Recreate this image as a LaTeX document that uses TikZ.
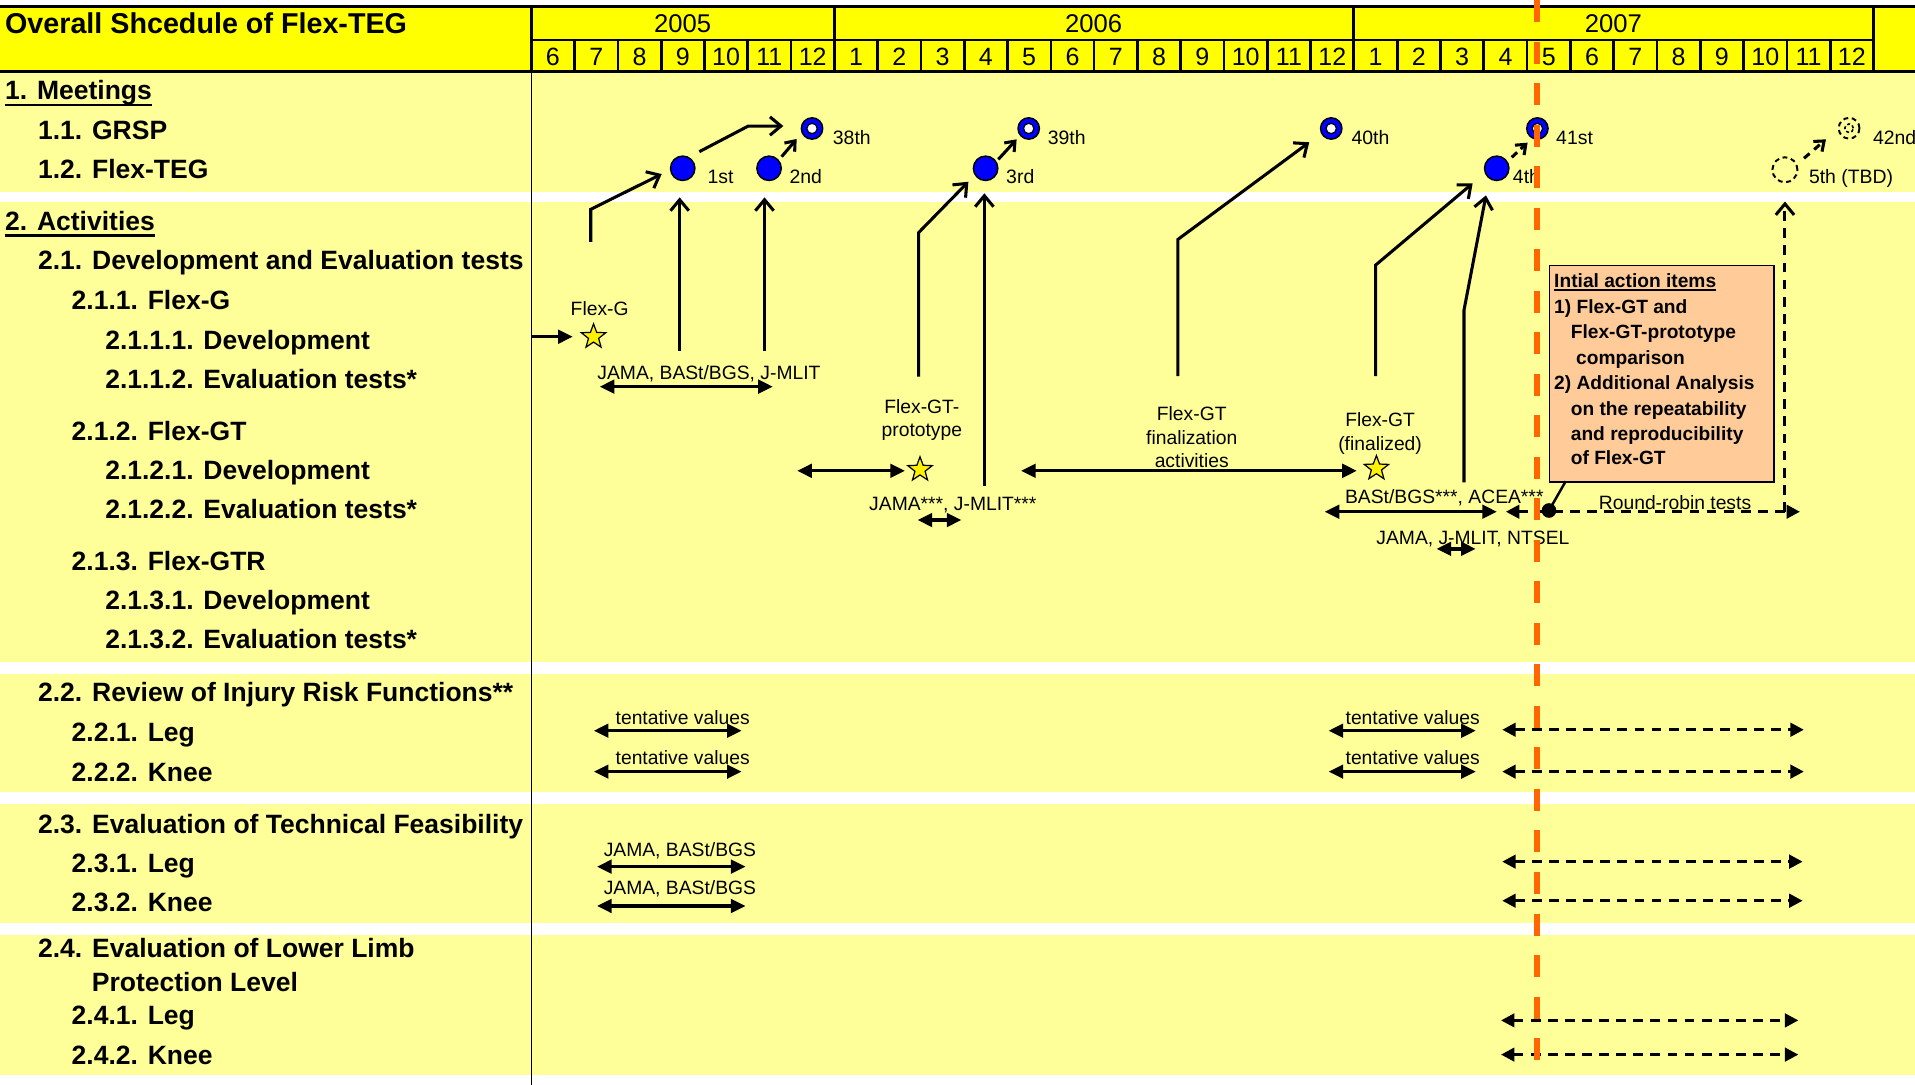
\documentclass[tikz,border=0pt]{standalone}
\usepackage{fontspec}
\setmainfont{Liberation Sans}
\usetikzlibrary{arrows.meta,shapes.geometric}
\definecolor{hdrY}{HTML}{FFFF00}
\definecolor{bandY}{HTML}{FFFF99}
\definecolor{peach}{HTML}{FFCC99}
\definecolor{orng}{HTML}{FF6600}
\definecolor{mblue}{HTML}{0000FF}
\tikzset{
  lt/.style={anchor=base west, inner sep=0pt, font=\bfseries\fontsize{21.7}{26}\selectfont},
  st/.style={anchor=base, inner sep=0pt, font=\fontsize{15.8}{19}\selectfont},
  ml/.style={anchor=base west, inner sep=0pt, font=\fontsize{15.9}{19}\selectfont},
  bt/.style={anchor=base west, inner sep=0pt, font=\bfseries\fontsize{15.7}{19}\selectfont},
  mo/.style={inner sep=0pt, font=\fontsize{20.5}{24}\selectfont},
  yr/.style={inner sep=0pt, font=\fontsize{21}{24}\selectfont},
  hl/.style={line width=2.2pt},
  oarr/.style={line width=2.5pt, -{Straight Barb[length=9pt,width=15pt]}},
  sarr/.style={line width=2.5pt, -{Straight Barb[length=7pt,width=11pt]}},
  darr/.style={line width=2.7pt, {Triangle[length=12pt,width=11pt]}-{Triangle[length=12pt,width=11pt]}},
  sgl/.style={line width=2.7pt, -{Triangle[length=12pt,width=11pt]}},
  ddarr/.style={line width=2.5pt, dash pattern=on 8pt off 6pt, {Triangle[length=11pt,width=11pt]}-{Triangle[length=11pt,width=11pt]}},
  fdot/.style={circle, fill=mblue, draw=black, line width=1.2pt, minimum size=20pt, inner sep=0pt},
  ring/.style={circle, fill=mblue, draw=black, line width=1.2pt, minimum size=17.5pt, inner sep=0pt},
  hole/.style={circle, fill=white, draw=black, line width=1pt, minimum size=8.5pt, inner sep=0pt},
  tbd/.style={circle, draw=black, line width=1.6pt, dash pattern=on 4pt off 3pt, inner sep=0pt},
  stary/.style={star, star points=5, star point ratio=2.4, minimum size=21pt, inner sep=0pt, fill=yellow, draw=black, line width=1pt},
  uline/.style={line width=2.2pt},
}
\begin{document}
\begin{tikzpicture}[x=1pt,y=-1pt]
\useasboundingbox (0,0) rectangle (1568,888);
\fill[white] (0,0) rectangle (1568,888);
% bands
\fill[bandY] (0,58.5) rectangle (1568,157);
\fill[bandY] (0,165) rectangle (1568,541.8);
\fill[bandY] (0,552) rectangle (1568,648.2);
\fill[bandY] (0,658.3) rectangle (1568,755.5);
\fill[bandY] (0,765.6) rectangle (1568,880.2);
% header
\fill[hdrY] (0,5) rectangle (1568,58.5);
\draw[line width=2.6pt] (0,5) -- (1568,5);
\draw[line width=2.6pt] (0,58.5) -- (1568,58.5);
\draw[hl] (435,32.7) -- (1534,32.7);
\foreach \xx in {435,683,1108,1534} \draw[hl] (\xx,5) -- (\xx,58.5);
\foreach \k in {1,...,30} \draw[hl] ({435+\k*35.4516},32.7) -- ({435+\k*35.4516},58.5);
\node[anchor=base west, inner sep=0pt, font=\bfseries\fontsize{23.5}{28}\selectfont] (title) at (4,27.3) {Overall Shcedule of Flex-TEG};
\node[yr] (y2005) at (559,19.1) {2005};
\node[yr] (y2006) at (895.5,19.1) {2006};
\node[yr] (y2007) at (1321,19.1) {2007};
\foreach \m [count=\k from 0] in {6,7,8,9,10,11,12,1,2,3,4,5,6,7,8,9,10,11,12,1,2,3,4,5,6,7,8,9,10,11,12}
  \node[mo] (mon\k) at ({435+(\k+0.5)*35.4516},46.4) {\m};
% left divider
\draw[line width=1pt] (435,58.5) -- (435,888);
% left column
\node[lt] (t1) at (4,81.5) {1. Meetings};
\draw[uline] ([yshift=-4.6pt]t1.base west) -- ([yshift=-4.6pt]t1.base east);
\node[lt] (t11) at (31,114.6) {1.1. GRSP};
\node[lt] (t12) at (31,146) {1.2. Flex-TEG};
\node[lt] (t2) at (4,189) {2. Activities};
\draw[uline] ([yshift=-4pt]t2.base west) -- ([yshift=-4pt]t2.base east);
\node[lt] (t21) at (31,220.5) {2.1. Development and Evaluation tests};
\node[lt] (t211) at (58.5,253.5) {2.1.1. Flex-G};
\node[lt] (t2111) at (86,286) {2.1.1.1. Development};
\node[lt] (t2112) at (86,318) {2.1.1.2. Evaluation tests*};
\node[lt] (t212) at (58.5,360.5) {2.1.2. Flex-GT};
\node[lt] (t2121) at (86,392.5) {2.1.2.1. Development};
\node[lt] (t2122) at (86,424.5) {2.1.2.2. Evaluation tests*};
\node[lt] (t213) at (58.5,467.5) {2.1.3. Flex-GTR};
\node[lt] (t2131) at (86,499) {2.1.3.1. Development};
\node[lt] (t2132) at (86,531) {2.1.3.2. Evaluation tests*};
\node[lt] (t22) at (31,574.5) {2.2. Review of Injury Risk Functions**};
\node[lt] (t221) at (58.5,607.5) {2.2.1. Leg};
\node[lt] (t222) at (58.5,639.5) {2.2.2. Knee};
\node[lt] (t23) at (31,682.5) {2.3. Evaluation of Technical Feasibility};
\node[lt] (t231) at (58.5,714.5) {2.3.1. Leg};
\node[lt] (t232) at (58.5,746.5) {2.3.2. Knee};
\node[lt] (t24) at (31,783.8) {2.4. Evaluation of Lower Limb};
\node[lt] (t24b) at (75,812) {Protection Level};
\node[lt] (t241) at (58.5,838.5) {2.4.1. Leg};
\node[lt] (t242) at (58.5,871.4) {2.4.2. Knee};
% meetings
\node[fdot] (m1) at (559,137.8) {};
\node[fdot] (m2) at (629.7,137.8) {};
\node[fdot] (m3) at (807,137.8) {};
\node[fdot] (m4) at (1225.5,137.8) {};
\node[tbd, minimum size=20.5pt] (m5) at (1461.5,139) {};
\foreach \nm/\xx in {g38/664.9,g39/842.3,g40/1090,g41/1258.8}{
  \node[ring] (\nm) at (\xx,105.2) {};
  \node[hole] (\nm h) at (\xx,105.2) {};
}
\node[tbd, minimum size=17pt] (g42) at (1514,105) {};
\node[tbd, minimum size=7pt, line width=1.3pt, dash pattern=on 2.5pt off 2pt] (g42h) at (1514,105) {};
\node[ml] (l1) at (579.2,150) {1st};
\node[ml] (l2) at (646.3,150) {2nd};
\node[ml] (l3) at (823.7,150) {3rd};
\node[ml] (l4) at (1238.6,150) {4th};
\node[ml] (l5) at (1481,150) {5th (TBD)};
\node[ml] (l38) at (681.8,118.2) {38th};
\node[ml] (l39) at (857.8,118.2) {39th};
\node[ml] (l40) at (1106.5,118.2) {40th};
\node[ml] (l41) at (1274,118.2) {41st};
\node[ml] (l42) at (1533.4,118.2) {42nd};
% meeting arrows
\coordinate (a1s) at (572.6,124.2); \coordinate (a1b) at (612.7,103.2); \coordinate (a1e) at (641.4,103.2);
\draw[oarr] (a1s) -- (a1b) -- (a1e);
\coordinate (a2s) at (640,128.3); \coordinate (a2e) at (652.3,113.8);
\draw[sarr] (a2s) -- (a2e);
\coordinate (a3s) at (817.4,130.5); \coordinate (a3e) at (832.4,114.1);
\draw[sarr] (a3s) -- (a3e);
\coordinate (a4s) at (1237.8,128.8); \coordinate (a4e) at (1250.8,116.8);
\draw[sarr, dash pattern=on 6pt off 4pt] (a4s) -- (a4e);
\coordinate (a5s) at (1477.1,129.6); \coordinate (a5e) at (1495.1,114.1);
\draw[sarr, dash pattern=on 6pt off 5pt] (a5s) -- (a5e);
% 2.1.1 Flex-G
\coordinate (b1s) at (435,275.7); \coordinate (b1e) at (469,275.7);
\draw[sgl] (b1s) -- (b1e);
\node[stary] (sG) at (486,275.7) {};
\node[st] (lG) at (491,258) {Flex-G};
\coordinate (b2s) at (483.7,198); \coordinate (b2b) at (483.7,171.4); \coordinate (b2e) at (541.8,142.5);
\draw[oarr] (b2s) -- (b2b) -- (b2e);
\coordinate (b3s) at (556.5,287); \coordinate (b3e) at (556.5,161.6);
\draw[oarr] (b3s) -- (b3e);
\coordinate (b4s) at (626,287); \coordinate (b4e) at (626,161.6);
\draw[oarr] (b4s) -- (b4e);
\node[st] (lJ1) at (580.5,311) {JAMA, BASt/BGS, J-MLIT};
\coordinate (d1s) at (491,316.6); \coordinate (d1e) at (632.8,316.6);
\draw[darr] (d1s) -- (d1e);
% 2.1.2 Flex-GT prototype
\coordinate (b5s) at (752.1,308.4); \coordinate (b5b) at (752.1,190.5); \coordinate (b5e) at (792.9,148.8);
\draw[oarr] (b5s) -- (b5b) -- (b5e);
\coordinate (b6s) at (806,398); \coordinate (b6e) at (806,158.3);
\draw[oarr] (b6s) -- (b6e);
\node[st] (lP1) at (754.8,338.5) {Flex-GT-};
\node[st] (lP2) at (754.8,357.5) {prototype};
\coordinate (d2s) at (652.7,385.5); \coordinate (d2e) at (741,385.5);
\draw[darr] (d2s) -- (d2e);
\node[stary] (sP) at (753.3,384.5) {};
\node[st] (lJ2) at (780.2,418) {JAMA***, J-MLIT***};
\coordinate (d3s) at (751.3,425.8); \coordinate (d3e) at (787.2,425.8);
\draw[darr] (d3s) -- (d3e);
% finalization
\coordinate (d4s) at (836,385.5); \coordinate (d4e) at (1111,385.5);
\draw[darr] (d4s) -- (d4e);
\node[st] (lF1) at (975.8,344) {Flex-GT};
\node[st] (lF2) at (975.8,364) {finalization};
\node[st] (lF3) at (975.8,383) {activities};
\coordinate (b7s) at (964.5,308); \coordinate (b7b) at (964.5,196); \coordinate (b7e) at (1072,116.5);
\draw[oarr] (b7s) -- (b7b) -- (b7e);
\node[stary] (sF) at (1127,383.5) {};
\node[st] (lD1) at (1130,349) {Flex-GT};
\node[st] (lD2) at (1130,369) {(finalized)};
\coordinate (b8s) at (1126.4,308); \coordinate (b8b) at (1126.4,217); \coordinate (b8e) at (1205.8,150.1);
\draw[oarr] (b8s) -- (b8b) -- (b8e);
\coordinate (b9s) at (1198.7,395); \coordinate (b9b) at (1198.7,254); \coordinate (b9e) at (1216.7,160);
\draw[oarr] (b9s) -- (b9b) -- (b9e);
\node[st] (lB) at (1182.6,412) {BASt/BGS***, ACEA***};
\coordinate (d5s) at (1084.6,419); \coordinate (d5e) at (1225.7,419);
\draw[darr] (d5s) -- (d5e);
\node[st] (lN) at (1206,446) {JAMA, J-MLIT, NTSEL};
\coordinate (d6s) at (1176.2,449.4); \coordinate (d6e) at (1208.3,449.4);
\draw[darr] (d6s) -- (d6e);
\coordinate (r1s) at (1233,419); \coordinate (r1e) at (1473.8,419);
\draw[ddarr] (r1s) -- (r1e);
\node[st] (lR) at (1371.5,417.5) {Round-robin tests};
\coordinate (r2s) at (1461.5,419); \coordinate (r2e) at (1461.5,165);
\draw[oarr, dash pattern=on 8pt off 6pt] (r2s) -- (r2e);
% action items box
\node[draw=black, line width=1.2pt, fill=peach, anchor=north west, minimum width=183.7pt, minimum height=177pt, inner sep=0pt] (box) at (1268.3,217) {};
\node[bt] (bx0) at (1272.4,235.3) {Intial action items};
\draw[line width=1.5pt] ([yshift=-2.4pt]bx0.base west) -- ([yshift=-2.4pt]bx0.base east);
\node[bt] (bx1) at (1272.4,256.6) {1) Flex-GT and};
\node[bt] (bx2) at (1286,277) {Flex-GT-prototype};
\node[bt] (bx3) at (1290.4,298.3) {comparison};
\node[bt] (bx4) at (1272.4,318.8) {2) Additional Analysis};
\node[bt] (bx5) at (1286,339.8) {on the repeatability};
\node[bt] (bx6) at (1286,360.3) {and reproducibility};
\node[bt] (bx7) at (1286,380.7) {of Flex-GT};
\node[circle, fill=black, minimum size=12pt, inner sep=0pt] (dot) at (1268.3,418) {};
\coordinate (boxc) at (1282,394);
\draw[line width=2pt] (dot.center) -- (boxc);
% 2.2
\node[st] (lt1) at (559,593.6) {tentative values};
\node[st] (lt2) at (559,625.8) {tentative values};
\node[st] (lt3) at (1156.7,593.6) {tentative values};
\node[st] (lt4) at (1156.7,625.8) {tentative values};
\coordinate (d7s) at (486.2,598.3); \coordinate (d7e) at (607.3,598.3);
\coordinate (d8s) at (486.2,631.8); \coordinate (d8e) at (607.3,631.8);
\coordinate (d9s) at (1087.8,598.3); \coordinate (d9e) at (1208.4,598.3);
\coordinate (d10s) at (1087.8,631.8); \coordinate (d10e) at (1208.4,631.8);
\draw[darr] (d7s) -- (d7e);
\draw[darr] (d8s) -- (d8e);
\draw[darr] (d9s) -- (d9e);
\draw[darr] (d10s) -- (d10e);
\coordinate (e1s) at (1230,597.5); \coordinate (e1e) at (1477,597.5);
\coordinate (e2s) at (1230,631.8); \coordinate (e2e) at (1477,631.8);
\draw[ddarr] (e1s) -- (e1e);
\draw[ddarr] (e2s) -- (e2e);
% 2.3
\node[st] (lj1) at (556.7,700.9) {JAMA, BASt/BGS};
\node[st] (lj2) at (556.7,732.8) {JAMA, BASt/BGS};
\coordinate (d11s) at (488.8,709.6); \coordinate (d11e) at (610.5,709.6);
\coordinate (d12s) at (488.8,741.8); \coordinate (d12e) at (610.5,741.8);
\draw[darr] (d11s) -- (d11e);
\draw[darr] (d12s) -- (d12e);
\coordinate (e3s) at (1230,705.5); \coordinate (e3e) at (1476,705.5);
\coordinate (e4s) at (1230,737.5); \coordinate (e4e) at (1476,737.5);
\draw[ddarr] (e3s) -- (e3e);
\draw[ddarr] (e4s) -- (e4e);
% 2.4
\coordinate (e5s) at (1229,835.5); \coordinate (e5e) at (1472.5,835.5);
\coordinate (e6s) at (1229,863.5); \coordinate (e6e) at (1472.5,863.5);
\draw[ddarr] (e5s) -- (e5e);
\draw[ddarr] (e6s) -- (e6e);
% orange now-line
\coordinate (ot) at (1258.6,0); \coordinate (ob) at (1258.6,868);
\draw[orng, line width=4.5pt, dash pattern=on 18pt off 16pt] (ot) -- (ob);
\end{tikzpicture}
\end{document}
